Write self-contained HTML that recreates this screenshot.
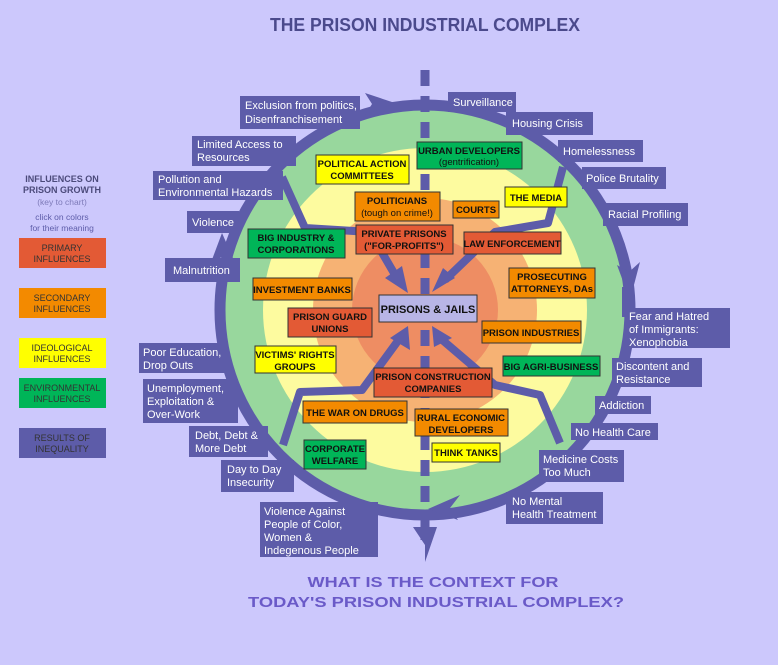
<!DOCTYPE html>
<html><head><meta charset="utf-8"><style>
html,body{margin:0;padding:0;background:#ccc8fc;}
svg{display:block;font-family:"Liberation Sans",sans-serif;}
.pl{fill:#5d5ca9;}
.pt{fill:#fff;font-size:11px;}
.bt{font-size:9.5px;font-weight:bold;fill:#111;text-anchor:middle;}
.lg{font-size:9px;fill:#333;text-anchor:middle;}
</style></head><body>
<svg width="778" height="665" viewBox="0 0 778 665">
<rect width="778" height="665" fill="#ccc8fc"/>
<text x="425" y="31" text-anchor="middle" font-size="18" font-weight="bold" fill="#4b4a8c" textLength="310" lengthAdjust="spacingAndGlyphs">THE PRISON INDUSTRIAL COMPLEX</text>

<!-- rings -->
<circle cx="425" cy="310" r="203" fill="#98d79d"/>
<circle cx="425" cy="310" r="162" fill="#fdfb9f"/>
<circle cx="425" cy="310" r="112" fill="#f6b274"/>
<circle cx="425" cy="310" r="73" fill="#ee8d63"/>
<circle cx="425" cy="310" r="205" fill="none" stroke="#5d5ca9" stroke-width="11"/>

<!-- dashed line -->
<line x1="425" y1="70" x2="425" y2="540" stroke="#5d5ca9" stroke-width="9" stroke-dasharray="16 10"/>
<polygon class="pl" points="413,527 437,527 425,562 425,545"/>

<!-- ring arrowheads -->
<polygon class="pl" points="365,93 395,103 365,115 372,104"/>
<polygon class="pl" points="617,265 630,300 640,262 629,272"/>
<polygon class="pl" points="460,495 428,509 458,520 450,508"/>
<polygon class="pl" points="210,265 222,233 236,265 223,256"/>

<!-- inner arrows -->
<g fill="none" stroke="#5d5ca9" stroke-width="8" stroke-linejoin="round">
<polyline points="282,177 305,228 370,232 398,280"/>
<polyline points="563,167 548,223 495,232 445,280"/>
<polyline points="283,445 300,392 362,390 400,338"/>
<polyline points="560,443 540,395 495,385 440,338"/>
</g>
<polygon class="pl" points="385,278 408,293 402,266"/>
<polygon class="pl" points="432,292 455,278 443,268"/>
<polygon class="pl" points="390,338 408,326 410,350"/>
<polygon class="pl" points="432,326 452,338 434,347"/>

<!-- purple labels -->
<g class="pl">
<rect x="240" y="96" width="120" height="33"/>
<rect x="192" y="136" width="104" height="30"/>
<rect x="153" y="171" width="130" height="29"/>
<rect x="187" y="211" width="52" height="22"/>
<rect x="165" y="258" width="75" height="24"/>
<rect x="139" y="343" width="88" height="30"/>
<rect x="143" y="379" width="95" height="44"/>
<rect x="189" y="426" width="79" height="31"/>
<rect x="221" y="460" width="73" height="32"/>
<rect x="260" y="502" width="118" height="55"/>
<rect x="448" y="92" width="68" height="20"/>
<rect x="506" y="112" width="87" height="23"/>
<rect x="558" y="140" width="85" height="22"/>
<rect x="582" y="167" width="84" height="22"/>
<rect x="603" y="203" width="85" height="23"/>
<rect x="622" y="287" width="9" height="30"/>
<rect x="627" y="308" width="103" height="40"/>
<rect x="612" y="358" width="90" height="29"/>
<rect x="595" y="396" width="56" height="18"/>
<rect x="571" y="423" width="87" height="17"/>
<rect x="539" y="450" width="85" height="32"/>
<rect x="506" y="492" width="97" height="32"/>
</g>
<g class="pt">
<text x="245" y="109">Exclusion from politics,</text><text x="245" y="123">Disenfranchisement</text>
<text x="197" y="148">Limited Access to</text><text x="197" y="161">Resources</text>
<text x="158" y="183">Pollution and</text><text x="158" y="196">Environmental Hazards</text>
<text x="192" y="226">Violence</text>
<text x="173" y="274">Malnutrition</text>
<text x="143" y="356">Poor Education,</text><text x="143" y="369">Drop Outs</text>
<text x="147" y="392">Unemployment,</text><text x="147" y="405">Exploitation &amp;</text><text x="147" y="418">Over-Work</text>
<text x="195" y="439">Debt, Debt &amp;</text><text x="195" y="452">More Debt</text>
<text x="227" y="473">Day to Day</text><text x="227" y="486">Insecurity</text>
<text x="264" y="515">Violence Against</text><text x="264" y="528">People of Color,</text><text x="264" y="541">Women &amp;</text><text x="264" y="554">Indegenous People</text>
<text x="453" y="106">Surveillance</text>
<text x="512" y="127">Housing Crisis</text>
<text x="563" y="155">Homelessness</text>
<text x="586" y="182">Police Brutality</text>
<text x="608" y="218">Racial Profiling</text>
<text x="629" y="320">Fear and Hatred</text><text x="629" y="333">of Immigrants:</text><text x="629" y="346">Xenophobia</text>
<text x="616" y="370">Discontent and</text><text x="616" y="383">Resistance</text>
<text x="599" y="409">Addiction</text>
<text x="575" y="436">No Health Care</text>
<text x="543" y="463">Medicine Costs</text><text x="543" y="476">Too Much</text>
<text x="512" y="505">No Mental</text><text x="512" y="518">Health Treatment</text>
</g>

<!-- colored boxes -->
<g stroke="#333" stroke-width="1">
<rect x="316" y="155" width="93" height="29" fill="#ffff00"/>
<rect x="417" y="142" width="105" height="27" fill="#00b558"/>
<rect x="355" y="192" width="85" height="29" fill="#f38a00"/>
<rect x="453" y="201" width="46" height="17" fill="#f38a00"/>
<rect x="505" y="187" width="62" height="20" fill="#ffff00"/>
<rect x="248" y="229" width="97" height="29" fill="#00b558"/>
<rect x="356" y="225" width="97" height="29" fill="#e35a35"/>
<rect x="464" y="232" width="97" height="22" fill="#e35a35"/>
<rect x="253" y="278" width="99" height="22" fill="#f38a00"/>
<rect x="509" y="268" width="86" height="30" fill="#f38a00"/>
<rect x="379" y="295" width="98" height="27" fill="#b8b5e6"/>
<rect x="288" y="308" width="84" height="29" fill="#e35a35"/>
<rect x="482" y="321" width="99" height="22" fill="#f38a00"/>
<rect x="255" y="346" width="81" height="27" fill="#ffff00"/>
<rect x="503" y="356" width="97" height="20" fill="#00b558"/>
<rect x="374" y="368" width="118" height="29" fill="#e35a35"/>
<rect x="303" y="401" width="104" height="22" fill="#f38a00"/>
<rect x="415" y="409" width="93" height="27" fill="#f38a00"/>
<rect x="304" y="440" width="62" height="29" fill="#00b558"/>
<rect x="432" y="443" width="68" height="19" fill="#ffff00"/>
</g>
<g class="bt">
<text x="362" y="167">POLITICAL ACTION</text><text x="362" y="179">COMMITTEES</text>
<text x="469" y="154">URBAN DEVELOPERS</text><text x="469" y="165" font-weight="normal">(gentrification)</text>
<text x="397" y="204">POLITICIANS</text><text x="397" y="216" font-weight="normal">(tough on crime!)</text>
<text x="476" y="213">COURTS</text>
<text x="536" y="201">THE MEDIA</text>
<text x="296" y="241">BIG INDUSTRY &amp;</text><text x="296" y="253">CORPORATIONS</text>
<text x="404" y="237">PRIVATE PRISONS</text><text x="404" y="249">("FOR-PROFITS")</text>
<text x="512" y="247">LAW ENFORCEMENT</text>
<text x="302" y="293">INVESTMENT BANKS</text>
<text x="552" y="280">PROSECUTING</text><text x="552" y="292">ATTORNEYS, DAs</text>
<text x="428" y="313" font-size="11">PRISONS &amp; JAILS</text>
<text x="330" y="320">PRISON GUARD</text><text x="330" y="332">UNIONS</text>
<text x="531" y="336">PRISON INDUSTRIES</text>
<text x="295" y="358">VICTIMS' RIGHTS</text><text x="295" y="370">GROUPS</text>
<text x="551" y="370">BIG AGRI-BUSINESS</text>
<text x="433" y="380">PRISON CONSTRUCTION</text><text x="433" y="392">COMPANIES</text>
<text x="355" y="416">THE WAR ON DRUGS</text>
<text x="461" y="421">RURAL ECONOMIC</text><text x="461" y="433">DEVELOPERS</text>
<text x="335" y="452">CORPORATE</text><text x="335" y="464">WELFARE</text>
<text x="466" y="456">THINK TANKS</text>
</g>

<!-- legend -->
<text x="62" y="182" text-anchor="middle" font-size="9" font-weight="bold" fill="#4b4a7a">INFLUENCES ON</text>
<text x="62" y="193" text-anchor="middle" font-size="9" font-weight="bold" fill="#4b4a7a">PRISON GROWTH</text>
<text x="62" y="205" text-anchor="middle" font-size="8.5" fill="#7d7ab8">(key to chart)</text>
<text x="62" y="220" text-anchor="middle" font-size="8.5" fill="#5d5ca9">click on colors</text>
<text x="62" y="231" text-anchor="middle" font-size="8.5" fill="#5d5ca9">for their meaning</text>
<rect x="19" y="238" width="87" height="30" fill="#e35a35"/>
<rect x="19" y="288" width="87" height="30" fill="#f38a00"/>
<rect x="19" y="338" width="87" height="30" fill="#ffff00"/>
<rect x="19" y="378" width="87" height="30" fill="#00b558"/>
<rect x="19" y="428" width="87" height="30" fill="#5d5ca9"/>
<g class="lg">
<text x="62" y="251">PRIMARY</text><text x="62" y="262">INFLUENCES</text>
<text x="62" y="301">SECONDARY</text><text x="62" y="312">INFLUENCES</text>
<text x="62" y="351">IDEOLOGICAL</text><text x="62" y="362">INFLUENCES</text>
<text x="62" y="391">ENVIRONMENTAL</text><text x="62" y="402">INFLUENCES</text>
<text x="62" y="441">RESULTS OF</text><text x="62" y="452">INEQUALITY</text>
</g>

<text x="433" y="587" text-anchor="middle" font-size="15" font-weight="bold" fill="#6a5ac8" textLength="251" lengthAdjust="spacingAndGlyphs">WHAT IS THE CONTEXT FOR</text>
<text x="436" y="607" text-anchor="middle" font-size="15" font-weight="bold" fill="#6a5ac8" textLength="376" lengthAdjust="spacingAndGlyphs">TODAY'S PRISON INDUSTRIAL COMPLEX?</text>
</svg>
</body></html>
